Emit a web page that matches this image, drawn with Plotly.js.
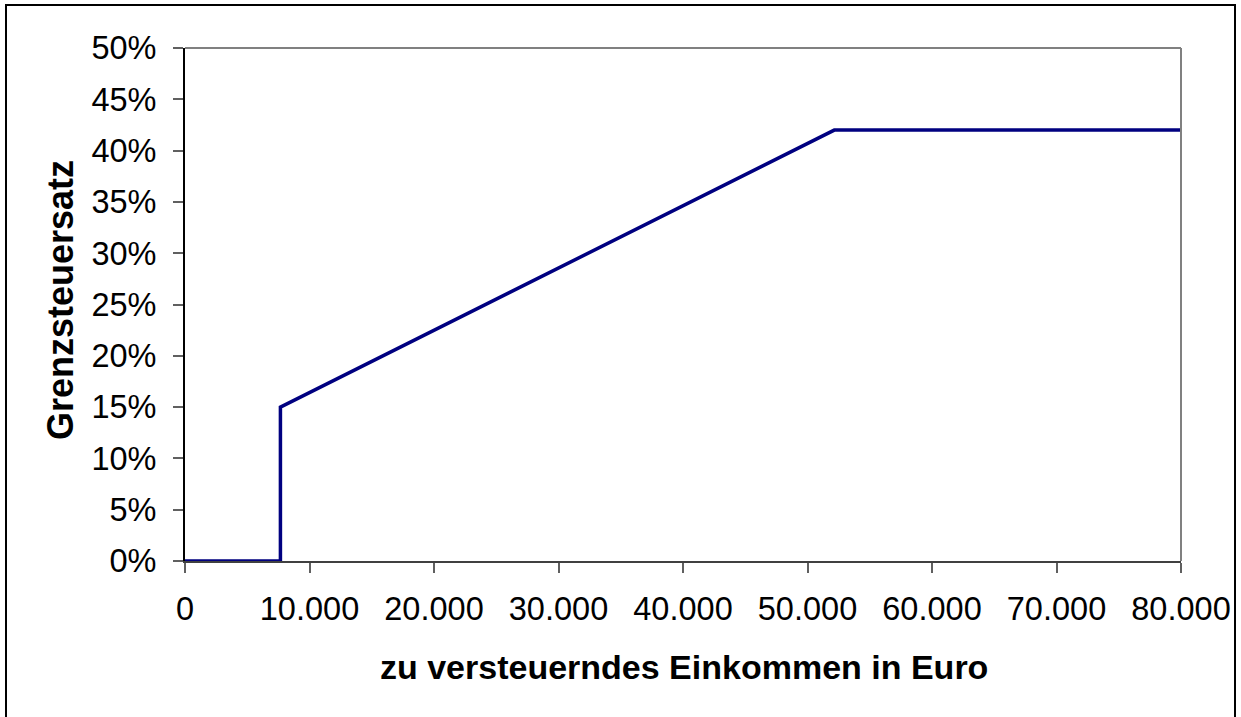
<!DOCTYPE html>
<html>
<head>
<meta charset="utf-8">
<script src="https://cdn.plot.ly/plotly-3.0.1.min.js"></script>
<style>
html,body{margin:0;padding:0;background:#fff;}
#chart{width:1241px;height:717px;}
</style>
</head>
<body>
<div id="chart"></div>
<script>
// Data (kink points of the marginal tax rate curve)
const incomeEuro = [0, 7664, 7664, 52152, 80000];
const marginalRate = [0, 0, 0.15, 0.42, 0.42];

const xTitle = 'zu versteuerndes Einkommen in Euro';
const yTitle = 'Grenzsteuersatz';

const W = 1241, H = 717;
const L = 185, R = 1181, T = 48, B = 561;
const pw = R - L, ph = B - T;
const px = v => (v - L) / pw;
const py = v => (B - v) / ph;

const trace = {
  x: incomeEuro,
  y: marginalRate,
  type: 'scatter',
  mode: 'lines',
  line: {color: '#000080', width: 3.5},
  hoverinfo: 'skip'
};

const fam = '"Liberation Sans", Arial, sans-serif';

const layout = {
  width: W, height: H,
  margin: {l: L, r: W - R, t: T, b: H - B, pad: 0},
  paper_bgcolor: '#fff',
  plot_bgcolor: '#fff',
  showlegend: false,
  separators: ',.',
  font: {family: fam, color: '#000'},
  xaxis: {
    range: [0, 80000],
    dtick: 10000,
    tick0: 0,
    tickformat: ',d',
    showgrid: false,
    zeroline: false,
    showline: true,
    linecolor: '#404040',
    linewidth: 2,
    ticks: 'outside',
    ticklen: 10,
    tickwidth: 2,
    tickcolor: '#606060',
    tickfont: {family: fam, size: 32.5, color: '#000'},
    ticklabelstandoff: 8,
    fixedrange: true
  },
  yaxis: {
    range: [0, 0.5],
    dtick: 0.05,
    tick0: 0,
    tickformat: '.0%',
    showgrid: false,
    zeroline: false,
    showline: true,
    linecolor: '#000',
    linewidth: 2,
    ticks: 'outside',
    ticklen: 10,
    tickwidth: 2,
    tickcolor: '#606060',
    tickfont: {family: fam, size: 32.5, color: '#000'},
    ticklabelstandoff: 10,
    fixedrange: true
  },
  annotations: [
    {text: xTitle, xref: 'paper', yref: 'paper', x: px(684), y: py(667), xanchor: 'center', yanchor: 'middle',
     showarrow: false, font: {family: fam, size: 34, color: '#000', weight: 'bold'}},
    {text: yTitle, xref: 'paper', yref: 'paper', x: px(60), y: py(300), xanchor: 'center', yanchor: 'middle',
     textangle: -90, showarrow: false, font: {family: fam, size: 36, color: '#000', weight: 'bold'}}
  ],
  shapes: [
    // plot frame top and right (gray)
    {type: 'line', xref: 'paper', yref: 'paper', x0: 0, x1: 1, y0: 1, y1: 1, line: {color: '#808080', width: 2}},
    {type: 'line', xref: 'paper', yref: 'paper', x0: 1, x1: 1, y0: 0, y1: 1, line: {color: '#808080', width: 2}},
    // outer chart border
    {type: 'rect', xref: 'paper', yref: 'paper', x0: px(6), x1: px(1235), y0: py(740), y1: py(5), line: {color: '#000', width: 2}, fillcolor: 'rgba(0,0,0,0)'}
  ]
};

Plotly.newPlot('chart', [trace], layout, {staticPlot: true, displayModeBar: false});
</script>
</body>
</html>
